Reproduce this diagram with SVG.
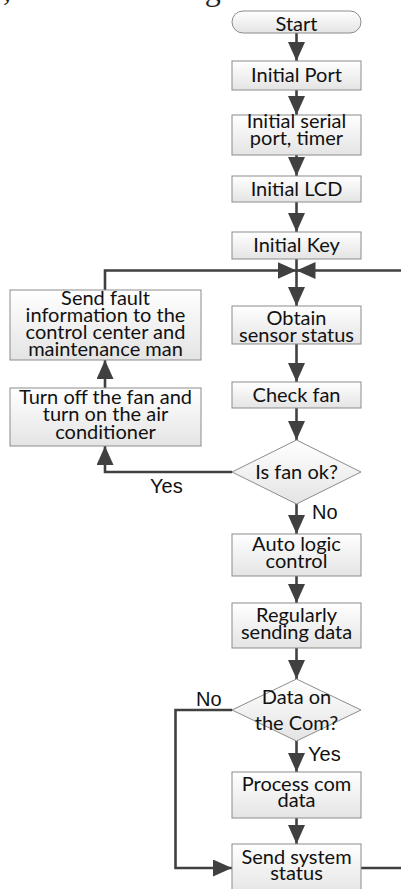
<svg xmlns="http://www.w3.org/2000/svg" width="401" height="889" viewBox="0 0 401 889">
  <style>
    .box { fill: url(#boxFill); stroke: #8c8c8c; stroke-width: 1; }
    .lbl { font-family: Lato, "Open Sans", sans-serif; font-size: 20px; fill: #111; text-anchor: middle; }
    .tag { font-family: "Liberation Sans", Arial, sans-serif; font-size: 20px; fill: #111; }
    .wire { fill: none; stroke: #404040; stroke-width: 2.6; }
    .caption { font-family: "Liberation Serif", serif; font-size: 32px; fill: #222; }
  </style>
  <defs>
    <linearGradient id="boxFill" x1="0" y1="0" x2="0" y2="1">
      <stop offset="0" stop-color="#ffffff"/>
      <stop offset="1" stop-color="#e4e4e4"/>
    </linearGradient>
    <marker id="head" markerUnits="userSpaceOnUse" markerWidth="19" markerHeight="17" refX="19" refY="8.5" orient="auto">
      <path d="M0 0 L19 8.5 L0 17 Z" fill="#404040"/>
    </marker>
  </defs>

  <!-- running text above the chart, cut by the top edge -->
  <text class="caption" x="3" y="0">, as shown in Figure 3.</text>

  <!-- connectors -->
  <g id="connectors">
    <path class="wire" d="M296.5 33 V61" marker-end="url(#head)"/>
    <path class="wire" d="M296.5 90 V115" marker-end="url(#head)"/>
    <path class="wire" d="M296.5 155 V176" marker-end="url(#head)"/>
    <path class="wire" d="M296.5 202 V232" marker-end="url(#head)"/>
    <path class="wire" d="M296.5 259 V306" marker-end="url(#head)"/>
    <path class="wire" d="M105 290 V270.5 H296.5" marker-end="url(#head)"/>
    <path class="wire" d="M402 270.5 H296.5" marker-end="url(#head)"/>
    <path class="wire" d="M296.5 344 V382" marker-end="url(#head)"/>
    <path class="wire" d="M296.5 408 V440" marker-end="url(#head)"/>
    <path class="wire" d="M232 472 H105 V446" marker-end="url(#head)"/>
    <path class="wire" d="M105 388 V360" marker-end="url(#head)"/>
    <path class="wire" d="M296.5 504 V534" marker-end="url(#head)"/>
    <path class="wire" d="M296.5 576 V603" marker-end="url(#head)"/>
    <path class="wire" d="M296.5 648 V679" marker-end="url(#head)"/>
    <path class="wire" d="M296.5 741 V772" marker-end="url(#head)"/>
    <path class="wire" d="M296.5 818 V844" marker-end="url(#head)"/>
    <path class="wire" d="M232 710 H175.5 V868 H232" marker-end="url(#head)"/>
    <path class="wire" d="M361 868 H402"/>
    <text class="tag" x="150" y="493">Yes</text>
    <text class="tag" x="312" y="519">No</text>
    <text class="tag" x="196" y="706">No</text>
    <text class="tag" x="308" y="761">Yes</text>
  </g>

  <g id="start">
    <rect class="box" x="232" y="11" width="129" height="22" rx="11"/>
    <text class="lbl" x="296.5" y="30.5">Start</text>
  </g>
  <g id="init-port">
    <rect class="box" x="232" y="61" width="129" height="29"/>
    <text class="lbl" x="296.5" y="82">Initial Port</text>
  </g>
  <g id="init-serial">
    <rect class="box" x="232" y="115" width="129" height="40"/>
    <text class="lbl" x="296.5" y="128">Initial serial</text>
    <text class="lbl" x="296.5" y="145">port, timer</text>
  </g>
  <g id="init-lcd">
    <rect class="box" x="232" y="176" width="129" height="26"/>
    <text class="lbl" x="296.5" y="196">Initial LCD</text>
  </g>
  <g id="init-key">
    <rect class="box" x="232" y="232" width="129" height="27"/>
    <text class="lbl" x="296.5" y="252">Initial Key</text>
  </g>
  <g id="obtain-sensor">
    <rect class="box" x="232" y="306" width="129" height="38"/>
    <text class="lbl" x="296.5" y="325">Obtain</text>
    <text class="lbl" x="296.5" y="342">sensor status</text>
  </g>
  <g id="check-fan">
    <rect class="box" x="232" y="382" width="129" height="26"/>
    <text class="lbl" x="296.5" y="402">Check fan</text>
  </g>
  <g id="fan-ok">
    <polygon class="box" points="296.5,440 361,472 296.5,504 232,472"/>
    <text class="lbl" x="296.5" y="478.5">Is fan ok?</text>
  </g>
  <g id="fan-off">
    <rect class="box" x="10" y="388" width="191" height="58"/>
    <text class="lbl" x="105.5" y="403.5">Turn off the fan and</text>
    <text class="lbl" x="105.5" y="420.5">turn on the air</text>
    <text class="lbl" x="105.5" y="438.5">conditioner</text>
  </g>
  <g id="send-fault">
    <rect class="box" x="10" y="290" width="191" height="70"/>
    <text class="lbl" x="105.5" y="304.5">Send fault</text>
    <text class="lbl" x="105.5" y="321.5">information to the</text>
    <text class="lbl" x="105.5" y="338.5">control center and</text>
    <text class="lbl" x="105.5" y="355.5">maintenance man</text>
  </g>
  <g id="auto-logic">
    <rect class="box" x="232" y="534" width="129" height="42"/>
    <text class="lbl" x="296.5" y="551">Auto logic</text>
    <text class="lbl" x="296.5" y="567.5">control</text>
  </g>
  <g id="send-data">
    <rect class="box" x="232" y="603" width="129" height="45"/>
    <text class="lbl" x="296.5" y="622">Regularly</text>
    <text class="lbl" x="296.5" y="638.5">sending data</text>
  </g>
  <g id="data-com">
    <polygon class="box" points="296.5,679 361,710 296.5,741 232,710"/>
    <text class="lbl" x="296.5" y="703.5">Data on</text>
    <text class="lbl" x="296.5" y="729.5">the Com?</text>
  </g>
  <g id="process-com">
    <rect class="box" x="232" y="772" width="129" height="46"/>
    <text class="lbl" x="296.5" y="791">Process com</text>
    <text class="lbl" x="296.5" y="807">data</text>
  </g>
  <g id="send-status">
    <rect class="box" x="232" y="844" width="129" height="50"/>
    <text class="lbl" x="296.5" y="863.5">Send system</text>
    <text class="lbl" x="296.5" y="879.5">status</text>
  </g>
</svg>
